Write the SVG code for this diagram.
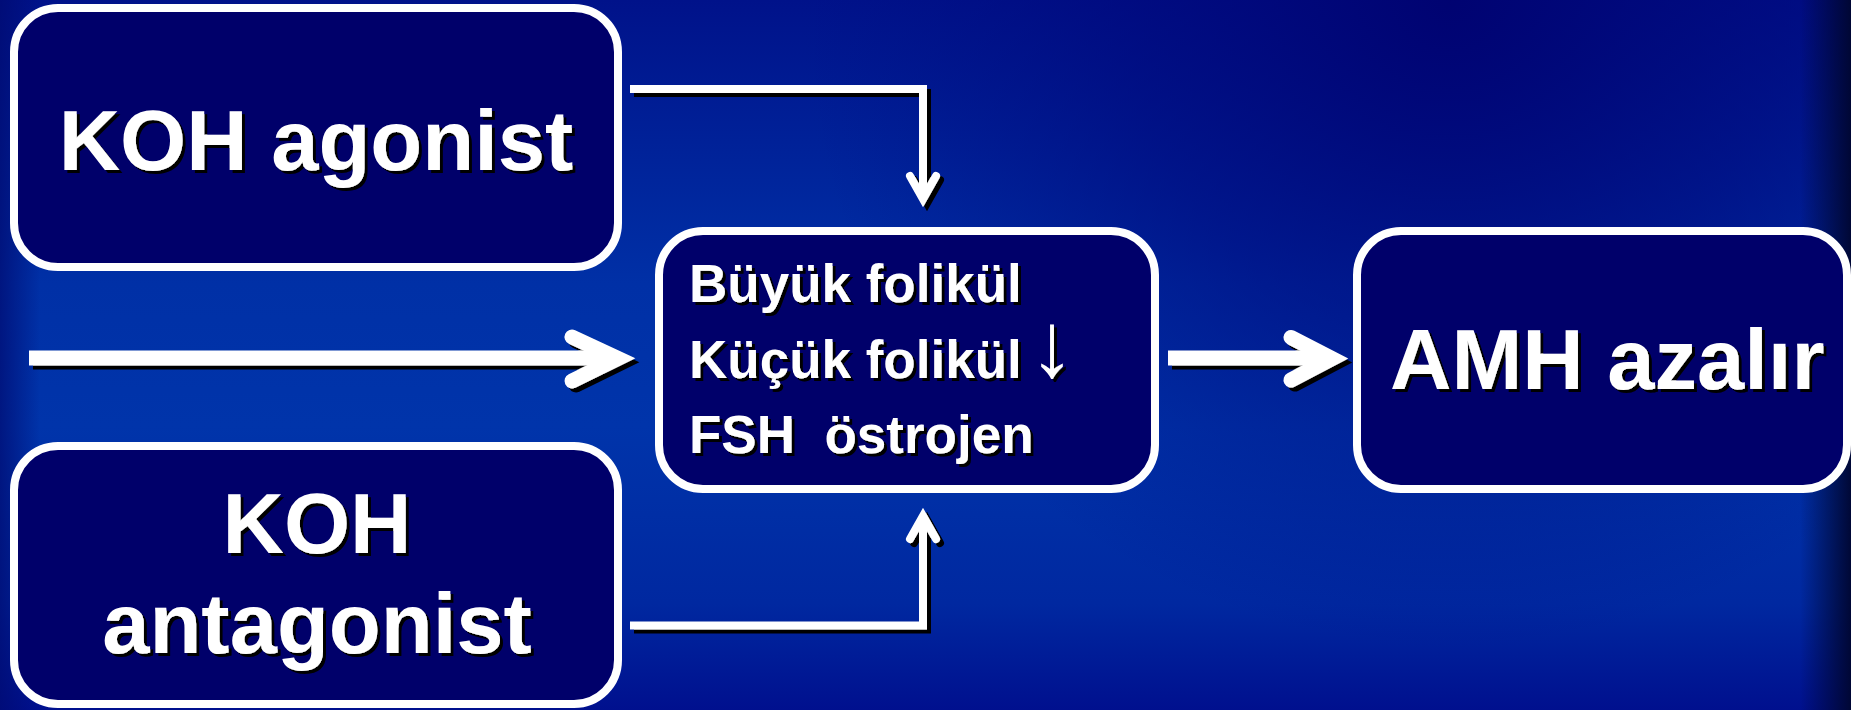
<svg xmlns="http://www.w3.org/2000/svg" xmlns:xlink="http://www.w3.org/1999/xlink" width="1851" height="710" viewBox="0 0 1851 710">
  <defs>
    <linearGradient id="bgV" x1="0" y1="0" x2="0" y2="1">
      <stop offset="0" stop-color="#00128a"/>
      <stop offset="0.4" stop-color="#0030a6"/>
      <stop offset="0.6" stop-color="#0034aa"/>
      <stop offset="0.85" stop-color="#0028a0"/>
      <stop offset="1" stop-color="#00108e"/>
    </linearGradient>
    <radialGradient id="bgTR" cx="1450" cy="0" r="650" gradientUnits="userSpaceOnUse">
      <stop offset="0" stop-color="#000270" stop-opacity="0.95"/>
      <stop offset="0.5" stop-color="#00067a" stop-opacity="0.55"/>
      <stop offset="1" stop-color="#000a80" stop-opacity="0"/>
    </radialGradient>
    <linearGradient id="bgR" x1="1800" y1="0" x2="1851" y2="0" gradientUnits="userSpaceOnUse">
      <stop offset="0" stop-color="#000630" stop-opacity="0"/>
      <stop offset="1" stop-color="#000630" stop-opacity="0.95"/>
    </linearGradient>
    <linearGradient id="bgL" x1="0" y1="0" x2="40" y2="0" gradientUnits="userSpaceOnUse">
      <stop offset="0" stop-color="#000a70" stop-opacity="0.7"/>
      <stop offset="1" stop-color="#000a70" stop-opacity="0"/>
    </linearGradient>
    <filter id="ts" x="-5%" y="-10%" width="115%" height="130%">
      <feFlood flood-color="#000"/>
      <feComposite in2="SourceAlpha" operator="in"/>
      <feOffset dx="3" dy="3" result="s"/>
      <feMerge><feMergeNode in="s"/><feMergeNode in="SourceGraphic"/></feMerge>
    </filter>
    <filter id="cs" x="-10%" y="-10%" width="125%" height="130%">
      <feFlood flood-color="#000"/>
      <feComposite in2="SourceAlpha" operator="in"/>
      <feOffset dx="4" dy="4" result="s"/>
      <feMerge><feMergeNode in="s"/><feMergeNode in="SourceGraphic"/></feMerge>
    </filter>
  </defs>
  <style>
    .box { fill: #00006a; stroke: #ffffff; stroke-width: 8; }
    .big { font-family: "Liberation Sans", Arial, sans-serif; font-weight: bold; font-size: 85px; fill: #ffffff; }
    .mid { font-family: "Liberation Sans", Arial, sans-serif; font-weight: bold; font-size: 53px; fill: #ffffff; }
    .pre { white-space: pre; }
    .arw { font-family: "Liberation Sans", Arial, sans-serif; font-weight: normal; font-size: 92px; fill: #ffffff; }
    .thin { fill: none; stroke: #ffffff; stroke-width: 8; stroke-linejoin: miter; stroke-linecap: butt; }
    .thick { fill: none; stroke: #ffffff; stroke-width: 15; stroke-linejoin: miter; stroke-linecap: butt; }
    .head { stroke-linecap: round; }
  </style>

  <rect x="0" y="0" width="1851" height="710" fill="url(#bgV)"/>
  <rect x="0" y="0" width="1851" height="710" fill="url(#bgTR)"/>
  <rect x="0" y="0" width="40" height="710" fill="url(#bgL)"/>
  <rect x="1800" y="0" width="51" height="710" fill="url(#bgR)"/>

  <g id="connectors" filter="url(#cs)">
    <path class="thin" d="M630 89 H923 V199"/>
    <path class="thin head" d="M910 176 L923 199 L936 176"/>
    <path class="thin" d="M630 625.5 H923 V516"/>
    <path class="thin head" d="M910 539 L923 516 L936 539"/>
    <path class="thick" d="M29 358 H616"/>
    <path class="thick head" d="M572 337 L618 358.5 L572 381"/>
    <path class="thick" d="M1168 358 H1330"/>
    <path class="thick head" d="M1291 337.5 L1332 358.5 L1291 380"/>
  </g>

  <g id="node-koh-agonist">
    <rect class="box" x="14" y="8" width="604" height="259" rx="44"/>
    <text class="big" x="316" y="170" text-anchor="middle" filter="url(#ts)">KOH agonist</text>
  </g>

  <g id="node-koh-antagonist">
    <rect class="box" x="14" y="446" width="604" height="258" rx="44"/>
    <text class="big" x="317" y="553" text-anchor="middle" filter="url(#ts)">KOH</text>
    <text class="big" x="317" y="653" text-anchor="middle" filter="url(#ts)">antagonist</text>
  </g>

  <g id="node-folikul">
    <rect class="box" x="659" y="231" width="496" height="258" rx="44"/>
    <text class="mid" x="689" y="302" filter="url(#ts)">Büyük folikül</text>
    <text class="mid" x="689" y="378" filter="url(#ts)">Küçük folikül</text>
    <text class="arw" x="1052" y="376" text-anchor="middle" filter="url(#ts)">↓</text>
    <text class="mid pre" x="689" y="453" filter="url(#ts)">FSH  östrojen</text>
  </g>

  <g id="node-amh">
    <rect class="box" x="1357" y="231" width="490" height="258" rx="44"/>
    <text class="big" x="1390" y="389" filter="url(#ts)">AMH azalır</text>
  </g>
</svg>
